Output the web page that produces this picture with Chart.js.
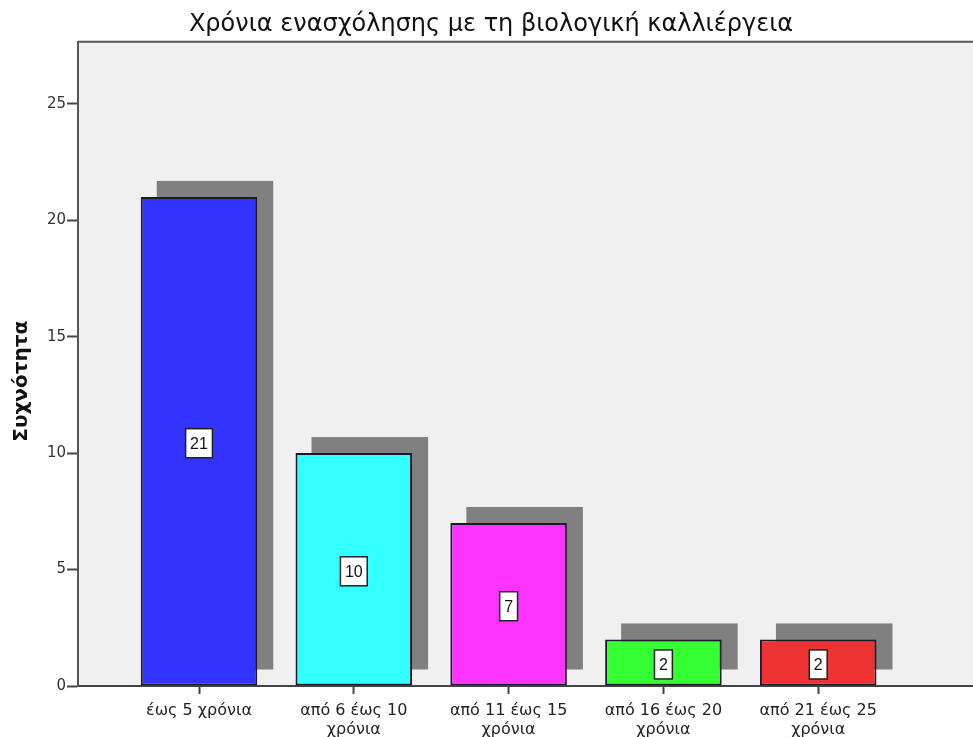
<!DOCTYPE html>
<html>
<head>
<meta charset="utf-8">
<script src="https://cdn.jsdelivr.net/npm/chart.js@4/dist/chart.umd.min.js"></script>
<style>
  html, body { margin: 0; padding: 0; background: #fff; overflow: hidden; }
  #wrap { width: 982px; height: 737px; }
</style>
</head>
<body>
<div id="wrap"><canvas id="chart" width="982" height="737"></canvas></div>
<script>
// Χρόνια ενασχόλησης - συχνότητες
const categories = [
    'έως 5 χρόνια',
    ['από 6 έως 10', 'χρόνια'],
    ['από 11 έως 15', 'χρόνια'],
    ['από 16 έως 20', 'χρόνια'],
    ['από 21 έως 25', 'χρόνια']
];
const counts = [21, 10, 7, 2, 2];
const barColors = ['#3333ff', '#33ffff', '#ff33ff', '#33ff33', '#ee3333'];
const yTicks = [0, 5, 10, 15, 20, 25];

const FONT = "'DejaVu Sans', Verdana, sans-serif";
const LABEL_FONT = "'Liberation Sans', Arial, sans-serif";
const SHADOW = 16;

// fondo gris del área y línea superior
const plotBackground = {
    id: 'plotBackground',
    beforeDraw(chart) {
        const { ctx, chartArea: a } = chart;
        ctx.save();
        ctx.fillStyle = '#f0f0f0';
        ctx.fillRect(a.left, a.top, a.right - a.left, a.bottom - a.top);
        ctx.strokeStyle = '#555';
        ctx.lineWidth = 2;
        ctx.beginPath();
        ctx.moveTo(a.left, a.top);
        ctx.lineTo(a.right, a.top);
        ctx.stroke();
        ctx.restore();
    }
};

// sombra gris desplazada detrás de cada barra
const barShadow = {
    id: 'barShadow',
    beforeDatasetsDraw(chart) {
        const { ctx } = chart;
        ctx.save();
        ctx.fillStyle = '#808080';
        chart.getDatasetMeta(0).data.forEach(bar => {
            const p = bar.getProps(['x', 'y', 'base', 'width'], true);
            ctx.fillRect(p.x - p.width / 2 + SHADOW, p.y - SHADOW, p.width, p.base - p.y);
        });
        ctx.restore();
    }
};

// etiqueta con el valor en el centro de la barra
const valueBoxes = {
    id: 'valueBoxes',
    afterDatasetsDraw(chart) {
        const { ctx } = chart;
        ctx.save();
        ctx.font = '16px ' + LABEL_FONT;
        ctx.textAlign = 'center';
        ctx.textBaseline = 'middle';
        chart.getDatasetMeta(0).data.forEach((bar, i) => {
            const p = bar.getProps(['x', 'y', 'base'], true);
            const txt = String(counts[i]);
            const w = ctx.measureText(txt).width + 9;
            const h = 29;
            const cy = (p.y + p.base) / 2 + 2;
            ctx.fillStyle = '#ffffff';
            ctx.fillRect(p.x - w / 2, cy - h / 2, w, h);
            ctx.strokeStyle = '#222';
            ctx.lineWidth = 1.5;
            ctx.strokeRect(p.x - w / 2, cy - h / 2, w, h);
            ctx.fillStyle = '#111';
            ctx.fillText(txt, p.x, cy + 1);
        });
        ctx.restore();
    }
};

const ctx = document.getElementById('chart').getContext('2d');
new Chart(ctx, {
    type: 'bar',
    data: {
        datasets: [{
            data: counts.map((v, i) => ({ x: i, y: v })),
            backgroundColor: barColors,
            borderColor: '#1a1a2a',
            borderWidth: 2,
            borderSkipped: false,
            categoryPercentage: 1,
            barPercentage: 0.753
        }]
    },
    options: {
        responsive: false,
        animation: false,
        layout: { padding: 0 },
        plugins: {
            legend: { display: false },
            tooltip: { enabled: false },
            title: {
                display: true,
                text: 'Χρόνια ενασχόλησης με τη βιολογική καλλιέργεια',
                color: '#111',
                font: { family: FONT, size: 24, weight: 'normal', lineHeight: 1.2 },
                padding: { top: 10, bottom: 3 }
            }
        },
        scales: {
            x: {
                type: 'linear',
                offset: false,
                min: -0.7817,
                max: 5.058,
                afterBuildTicks(scale) {
                    scale.ticks = categories.map((c, i) => ({ value: i }));
                },
                afterFit(scale) { scale.height = 51; },
                ticks: {
                    color: '#222',
                    padding: 8,
                    maxRotation: 0,
                    autoSkip: false,
                    font: { family: FONT, size: 16, lineHeight: 1.15 },
                    callback: (v) => categories[v]
                },
                grid: {
                    offset: false,
                    drawOnChartArea: false,
                    drawTicks: true,
                    tickLength: 8,
                    tickWidth: 2,
                    tickColor: '#444'
                },
                border: { color: '#444', width: 2 }
            },
            y: {
                min: 0,
                max: 27.66,
                afterBuildTicks(scale) {
                    scale.ticks = yTicks.map(v => ({ value: v }));
                },
                afterFit(scale) { scale.width = 78; },
                ticks: {
                    color: '#333',
                    padding: 1,
                    font: { family: FONT, size: 15 }
                },
                grid: {
                    drawOnChartArea: false,
                    drawTicks: true,
                    tickLength: 11,
                    tickWidth: 2,
                    tickColor: '#444'
                },
                border: { color: '#555', width: 2 },
                title: {
                    display: true,
                    // espacios finales para bajar un poco el título girado
                    text: 'Συχνότητα\u00a0\u00a0\u00a0\u00a0\u00a0',
                    color: '#111',
                    font: { family: FONT, size: 20, weight: 'bold', lineHeight: 1.2 },
                    padding: { top: 10, bottom: 0 }
                }
            }
        }
    },
    plugins: [plotBackground, barShadow, valueBoxes]
});
</script>
</body>
</html>
